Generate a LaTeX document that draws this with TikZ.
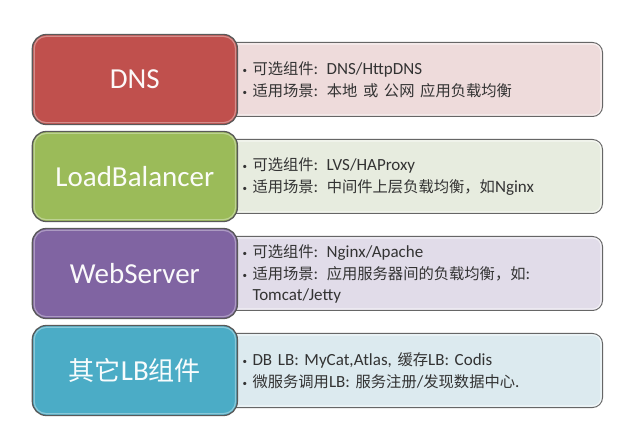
\documentclass[tikz,border=0pt]{standalone}
\usepackage{fontspec}
\setmainfont{Carlito}
\newfontfamily\cjk[Scale=0.9]{Noto Sans CJK SC}
\newcommand{\zh}[1]{{\cjk #1}}
\newcommand{\pt}{\makebox[10pt][l]{\raisebox{0.5pt}{\small•}}}
\usetikzlibrary{positioning}
\definecolor{dnsred}{HTML}{C0504D}
\definecolor{dnsbg}{HTML}{EEDBDB}
\definecolor{lbgreen}{HTML}{9BBB59}
\definecolor{lbbg}{HTML}{E7ECDF}
\definecolor{webpurple}{HTML}{8064A2}
\definecolor{webbg}{HTML}{E1DCE9}
\definecolor{otherblue}{HTML}{4BACC6}
\definecolor{otherbg}{HTML}{DCEAEF}

\tikzset{
  layer/.style={rounded corners=14pt, minimum width=205pt, minimum height=90pt,
    draw=black!65, line width=1.3pt, text=white!96!#1, inner sep=0pt,
    font=\fontsize{29}{34}\selectfont, fill=#1},
  info/.style={rounded corners=10pt, minimum height=74pt, text width=338pt,
    inner xsep=22pt, align=left, draw=black!60, line width=1pt,
    text=black!80, font=\fontsize{17}{22}\selectfont, fill=#1},
  shine/.style={draw=white, opacity=0.35, line width=1.2pt}
}

\begin{document}
\begin{tikzpicture}[x=1pt, y=1pt]
    \useasboundingbox[fill=white] (0,0) rectangle (640,-446);

    % descripciones
    \node [info=dnsbg] (dnsinfo) at (411.5,-79.5)
        {\pt\zh{可选组件}: DNS/HttpDNS\\
         \pt\zh{适用场景}: \zh{本地 或 公网 应用负载均衡}};
    \node [info=lbbg] (lbinfo) [below=22pt of dnsinfo]
        {\pt\zh{可选组件}: LVS/HAProxy\\
         \pt\zh{适用场景}: \zh{中间件上层负载均衡，如}Nginx};
    \node [info=webbg] (webinfo) [below=22pt of lbinfo]
        {\pt\zh{可选组件}: Nginx/Apache\\
         \pt\zh{适用场景}: \zh{应用服务器间的负载均衡，如}:\\[-1pt]
         \hspace*{10pt}Tomcat/Jetty};
    \node [info=otherbg] (otherinfo) [below=22pt of webinfo]
        {\pt DB LB: MyCat,Atlas, \zh{缓存}LB: Codis\\
         \pt\zh{微服务调用}LB: \zh{服务注册}/\zh{发现数据中心}.};
    \foreach \n in {dnsinfo, lbinfo, webinfo, otherinfo}
        \draw [shine, opacity=0.6, rounded corners=8pt] ([shift={(2pt,-2pt)}]\n.north west)
            rectangle ([shift={(-2pt,2pt)}]\n.south east);

    % capas
    \node [layer=dnsred] (dns) [left=-18pt of dnsinfo] {DNS};
    \node [layer=lbgreen] (lb) [left=-18pt of lbinfo] {LoadBalancer};
    \node [layer=webpurple] (web) [left=-18pt of webinfo] {WebServer};
    \node [layer=otherblue] (other) [left=-18pt of otherinfo] {\zh{其它}LB\zh{组件}};
    \foreach \n in {dns, lb, web, other}
        \draw [shine, rounded corners=12pt] ([shift={(2.5pt,-2.5pt)}]\n.north west)
            rectangle ([shift={(-2.5pt,2.5pt)}]\n.south east);
\end{tikzpicture}
\end{document}
